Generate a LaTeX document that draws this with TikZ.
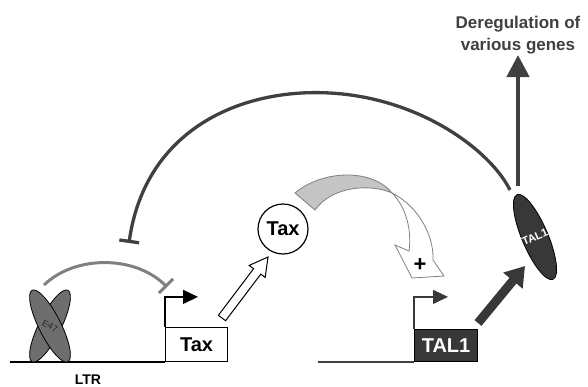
\documentclass[tikz,border=0pt]{standalone}
\usepackage{fontspec}
\setmainfont{Liberation Sans}
\usetikzlibrary{arrows.meta,shapes.geometric}
\definecolor{dk}{HTML}{404040}
\definecolor{tal}{HTML}{383838}
\definecolor{mg}{HTML}{808080}
\definecolor{eg}{HTML}{6E6E6E}
\definecolor{lg}{HTML}{C4C4C4}
\begin{document}
\begin{tikzpicture}[x=1pt,y=-1pt,
  lbl/.style={font=\bfseries\fontsize{20}{24}\selectfont},
  genebox/.style={draw, line width=1.1pt, inner sep=0pt, anchor=south west, lbl},
  promoter/.style={line width=1.3pt, -{Triangle[length=15pt,width=14pt]}},
  baseln/.style={line width=1.4pt},
  blob/.style={draw=black, line width=0.8pt}]
\useasboundingbox (0,0) rectangle (588,386);

% ---------- left gene (LTR / Tax) ----------
\coordinate (L0) at (10,362);
\node[genebox, minimum width=62pt, minimum height=34pt] (taxbox) at (165,362) {Tax};
\draw[baseln] (L0) -- (taxbox.south west);
\draw[promoter] (taxbox.north west) -- ++(0,-30) -- ++(33,0);

% E47 dimer
\draw[blob, fill=eg, rotate around={-26.6:(50,326)}] (50,326) ellipse [x radius=11, y radius=40];
\draw[blob, fill=eg, rotate around={26.6:(50,326)}] (50,326) ellipse [x radius=11, y radius=40];
\node[rotate=-26.6, inner sep=0pt, font=\fontsize{9}{10}\selectfont, text=black!85] (e47) at (50,326) {E47};
\node[anchor=base, font=\bfseries\fontsize{14}{16}\selectfont] (ltr) at (88,384) {LTR};

% gray inhibition arc
\coordinate (g0) at (44,285);
\coordinate (g1) at (167,287);
\draw[mg, line width=3pt, -{Bar[width=20pt,line width=3pt]}] (g0) .. controls (75,255) and (135,255) .. (g1);

% ---------- Tax protein ----------
\node[circle, draw, line width=1.2pt, minimum size=50pt, inner sep=0pt, lbl] (taxc) at (283,229) {Tax};

% hollow arrow Tax gene -> Tax protein
\draw[line width=1pt, fill=white, line join=miter]
  (225.6,320.7) -- (260.8,274.1) -- (265.2,277.4) -- (268,257) -- (249.2,265.4) -- (253.6,268.7) -- (218.4,315.3) -- cycle;

% curved ribbon arrow Tax -> TAL1 promoter
\filldraw[fill=lg, draw=mg, line width=0.8pt]
  (295,193) .. controls (322,170) and (372,168) .. (392,193)
  .. controls (372,184) and (333,185) .. (315,210) -- cycle;
\filldraw[fill=white, draw=mg, line width=0.8pt, line join=miter]
  (392,193) .. controls (418,206) and (434,235) .. (433,260) -- (444,276) -- (412,278) -- (395,245) -- (409,251)
  .. controls (412,230) and (406,207) .. (392,193) -- cycle;
\node[font=\bfseries\fontsize{22}{24}\selectfont, inner sep=0pt] (plus) at (420,265) {+};

% ---------- right gene (TAL1) ----------
\coordinate (R0) at (318,362);
\node[genebox, fill=tal, text=white, draw=black, minimum width=63pt, minimum height=32pt] (talbox) at (414,362) {TAL1};
\draw[baseln, dk] (R0) -- (talbox.south west);
\draw[promoter, tal] (talbox.north west) -- ++(0,-32) -- ++(34,0);

% TAL1 protein
\draw[blob, fill=tal, rotate around={23:(535,237)}] (535,237) ellipse [x radius=13, y radius=46];
\node[rotate=23, inner sep=0pt, text=white, font=\bfseries\fontsize{11}{12}\selectfont] (tal1) at (535,237) {TAL1};

% arrow TAL1 gene -> TAL1 protein
\coordinate (ta0) at (478,323);
\coordinate (ta1) at (525,266);
\draw[tal, line width=9pt, -{Triangle[length=19pt,width=24pt]}] (ta0) -- (ta1);

% TAL1 -> deregulation
\coordinate (v0) at (518,186);
\node[anchor=base, dk, font=\bfseries\fontsize{17}{20}\selectfont] (dereg1) at (518,28) {Deregulation of};
\node[anchor=base, dk, font=\bfseries\fontsize{17}{20}\selectfont] (dereg2) at (518,50) {various genes};
\coordinate (v1) at (518,55);
\draw[dk, line width=4.5pt, -{Triangle[length=22pt,width=22pt]}] (v0) -- (v1);

% big inhibition arc TAL1 -| LTR
\coordinate (b0) at (510,190);
\coordinate (b1) at (129,243);
\draw[dk, line width=3.3pt, -{Bar[width=20pt,line width=3.3pt]}]
  (b0) .. controls (490,150) and (420,98) .. (330,93) .. controls (240,88) and (145,130) .. (b1);
\end{tikzpicture}
\end{document}
